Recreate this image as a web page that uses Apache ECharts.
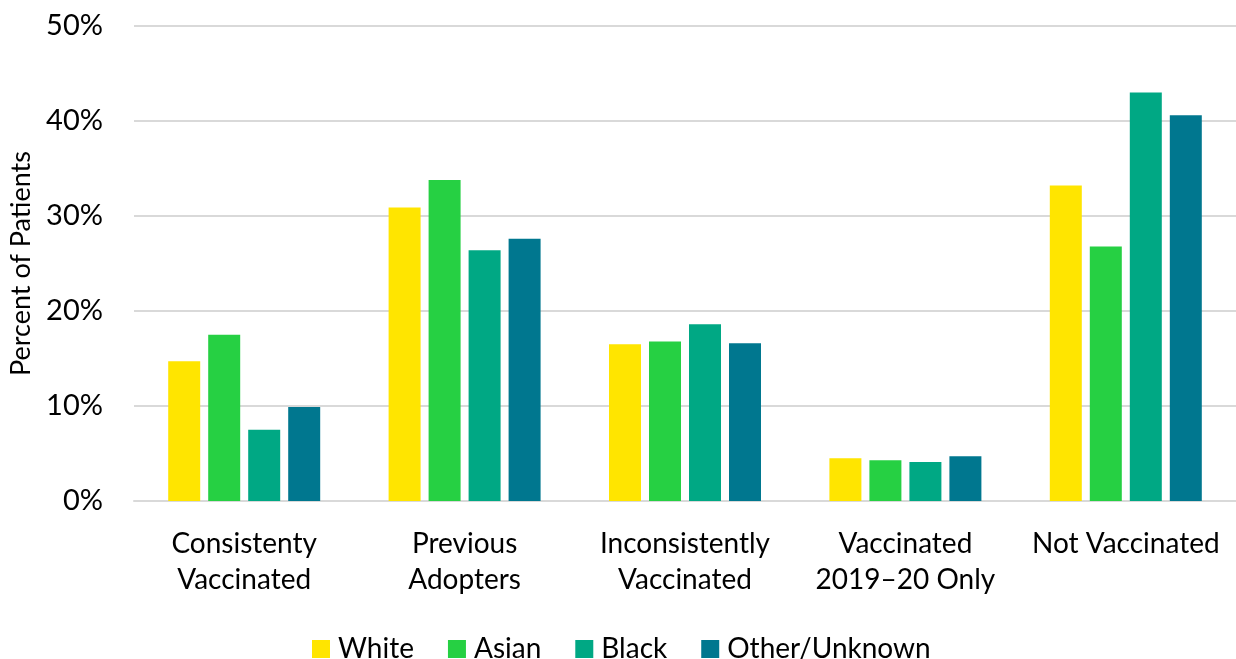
<!DOCTYPE html>
<html><head><meta charset="utf-8">
<script src="https://cdn.jsdelivr.net/npm/echarts@6/dist/echarts.min.js"></script>
<style>html,body{margin:0;padding:0;background:#fff}#c{width:1236px;height:659px}</style>
</head><body><div id="c"></div>
<script>
const categories = ["Consistenty\nVaccinated", "Previous\nAdopters", "Inconsistently\nVaccinated", "Vaccinated\n2019\u201320 Only", "Not Vaccinated"];
const white = [14.7, 30.9, 16.5, 4.5, 33.2];
const asian = [17.5, 33.8, 16.8, 4.3, 26.8];
const black = [7.5, 26.4, 18.6, 4.1, 43.0];
const other = [9.9, 27.6, 16.6, 4.7, 40.6];
const seriesNames = ["White", "Asian", "Black", "Other/Unknown"];
const colors = ["#FFE500", "#26D043", "#00A884", "#00778F"];
const yTicks = [0, 10, 20, 30, 40, 50];

const font = "Lato, 'Open Sans', sans-serif";
const chart = echarts.init(document.getElementById('c'));
const data = [white, asian, black, other];
chart.setOption({
  animation: false,
  color: colors,
  grid: {left: 134, right: 0, top: 26, bottom: 158, containLabel: false, outerBoundsMode: 'none'},
  legend: {
    top: 630, left: 307,
    itemWidth: 18, itemHeight: 18, itemGap: 34,
    icon: 'rect',
    textStyle: {fontFamily: font, fontSize: 28, color: '#000', padding: [0, 0, 0, 3]},
    data: seriesNames
  },
  xAxis: {
    type: 'category', data: categories,
    axisLine: {show: true, lineStyle: {color: '#d9d9d9', width: 2}},
    axisTick: {show: false},
    axisLabel: {fontFamily: font, fontSize: 28, color: '#000', lineHeight: 36, margin: 25, interval: 0}
  },
  yAxis: {
    type: 'value', min: yTicks[0], max: yTicks[yTicks.length - 1], interval: 10,
    name: 'Percent of Patients', nameLocation: 'middle', nameGap: 99,
    nameTextStyle: {fontFamily: font, fontSize: 27, color: '#000'},
    axisLine: {show: false}, axisTick: {show: false},
    splitLine: {lineStyle: {color: '#d9d9d9', width: 2}},
    axisLabel: {fontFamily: font, fontSize: 29, color: '#000', margin: 31, formatter: v => v + '%'}
  },
  series: data.map((d, i) => ({
    name: seriesNames[i], type: 'bar', data: d,
    barWidth: 32, barGap: '25%'
  }))
});
</script></body></html>
